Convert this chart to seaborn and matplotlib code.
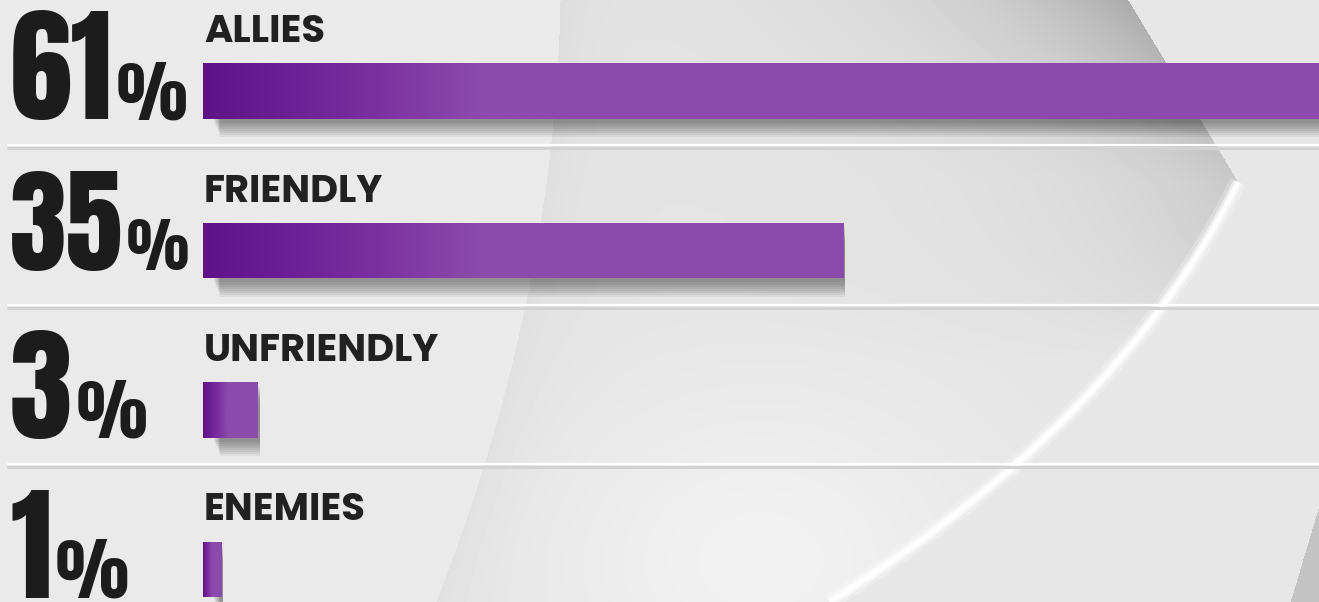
import numpy as np
import pandas as pd
import seaborn as sns
from matplotlib import pyplot as plt
from matplotlib import font_manager as fm
from matplotlib.textpath import TextPath
from matplotlib.colors import LinearSegmentedColormap

# data
categories = ['ALLIES', 'FRIENDLY', 'UNFRIENDLY', 'ENEMIES']
shares = [61, 35, 3, 1]
share_labels = ['61', '35', '3', '1']

W, H = 1319, 602
PX = 18.29      # pixels per percent point
X0 = 203        # pixel where bars start
ROW = 159.5     # pixels between rows
Y0 = 91         # pixel centre of first bar


def bold_face(families, weights=(700, 'bold')):
    """FontProperties for a static bold face of the first family found"""
    for fam in families:
        for f in fm.fontManager.ttflist:
            if (f.name == fam and f.weight in weights
                    and f.style == 'normal' and '[' not in f.fname):
                return fm.FontProperties(fname=f.fname)
    return fm.FontProperties(family='DejaVu Sans', weight='bold')


big_fp = bold_face(['Anton', 'Oswald', 'Bebas Neue'],
                   weights=(400, 'normal', 700, 'bold'))
lab_fp = bold_face(['Montserrat', 'Poppins', 'Raleway', 'Lato'])


def size_for_height(text, px_height, fp):
    """font size (pt) giving the glyphs the wanted height in pixels"""
    ext = TextPath((0, 0), text, size=100, prop=fp).get_extents()
    return px_height / ext.height * 100 * 72 / 100


sns.set_theme(style='white')
plt.rcParams['font.family'] = ['DejaVu Sans']

df = pd.DataFrame({'category': categories, 'share': shares})

fig = plt.figure(figsize=(W / 100, H / 100), dpi=100)

# background with the grey swoosh (decoration only)
bg = fig.add_axes([0, 0, 1, 1], zorder=-1)
yy, xx = np.mgrid[0:H, 0:W].astype(float)
tt = np.linspace(0, 1, 200)
sx = (1 - tt) ** 2 * 1238 + 2 * (1 - tt) * tt * 1120 + tt ** 2 * 830
sy = (1 - tt) ** 2 * 182 + 2 * (1 - tt) * tt * 420 + tt ** 2 * 602
ys = np.arange(H)
x_right = np.where(ys < 182, 1128 + (1238 - 1128) * ys / 182,
                   np.interp(ys, sy, sx))[:, None]
x_left = (560 - 0.02 * ys - 0.00031 * ys ** 2)[:, None]
inside = (xx > x_left) & (xx < x_right)
shade = np.full((H, W), 234.0)
dist = x_right - xx
lens_val = (229 - 58 * np.exp(-dist / 160) * np.clip(1 - yy / 360, 0, 1)
            - 6 * np.exp(-(xx - x_left) / 40)
            + 12 * np.exp(-((xx - 760) ** 2 / 220 ** 2
                            + (yy - 560) ** 2 / 170 ** 2)))
shade = np.where(inside, lens_val, shade)
shade = np.where(xx >= x_right, 231.0, shade)
wedge = (xx > 1290 + (602 - yy) * 0.3) & (yy > 500)
shade = np.where(wedge, 195.0, shade)
bg.imshow(np.clip(shade, 0, 255) / 255, cmap='gray', vmin=0, vmax=1,
          extent=(0, W, H, 0), aspect='auto', interpolation='bilinear')
for lw, a in [(12, 0.25), (7, 0.5), (3.5, 0.95)]:
    bg.plot(sx, sy, color='white', lw=lw, alpha=a, solid_capstyle='butt')
bg.set_xlim(0, W)
bg.set_ylim(H, 0)
bg.set_axis_off()

ax = fig.add_axes([0, 0, 1, 1])
ax.patch.set_alpha(0)

# soft shadows under bars
ypos = np.arange(len(categories))
for k in range(8):
    ax.barh(ypos + 0.025 + k * 0.013, np.array(shares) - 0.5 - k * 0.05,
            left=0.6 + k * 0.05, height=0.351, color='black', alpha=0.055,
            linewidth=0, zorder=1)

sns.barplot(data=df, x='share', y='category', orient='h', color='#8c4aad',
            saturation=1, width=0.351, linewidth=0, ax=ax, zorder=3)

# left-to-right colour fade on each bar
cmap = LinearSegmentedColormap.from_list(
    'fade', ['#5f1288', '#6a1c93', '#7a2e9f', '#8c4aad'])
for patch in list(ax.patches):
    if patch.get_zorder() != 3:
        continue
    x0, y0 = patch.get_x(), patch.get_y()
    w, h = patch.get_width(), patch.get_height()
    g = min(0.45 * w, 15)
    xs = np.linspace(0, w, 400)
    t = np.clip(xs / g, 0, 1) ** 0.8
    img = ax.imshow(t[np.newaxis, :], cmap=cmap, vmin=0, vmax=1,
                    extent=(x0, x0 + w, y0 + h, y0), aspect='auto',
                    interpolation='bilinear', zorder=4)
    img.set_clip_path(patch)

# row separators
for i in range(len(categories) - 1):
    yl = i + 54 / ROW
    ax.plot([(8 - X0) / PX, (W - X0) / PX], [yl + 3 / ROW] * 2,
            color='#d2d2d2', lw=2.2, zorder=1)
    ax.plot([(8 - X0) / PX, (W - X0) / PX], [yl] * 2,
            color='white', lw=1.6, zorder=1)

ax.set_xlim(-X0 / PX, (W - X0) / PX)
ax.set_ylim((H - Y0) / ROW, -Y0 / ROW)
ax.set_axis_off()

# category names and big percentages
num_height = [109, 100, 110, 108]      # glyph height in pixels
pct_height = [58, 51, 58, 60]
base_off = [28, 19.5, 28, 28]          # baseline below bar centre, pixels
lab_size = size_for_height('E', 27, lab_fp)
renderer = fig.canvas.get_renderer()
for i, (cat, lab) in enumerate(zip(categories, share_labels)):
    ax.text(0.05, i - 49 / ROW, cat, fontproperties=lab_fp,
            fontsize=lab_size, color='#212121', va='baseline', ha='left',
            zorder=5)
    yb = i + base_off[i] / ROW
    num = ax.text((10 - X0) / PX, yb, lab, fontproperties=big_fp,
                  fontsize=size_for_height(lab, num_height[i], big_fp),
                  color='#1c1c1c', va='baseline', ha='left', zorder=5)
    right = num.get_window_extent(renderer).x1
    ax.text((right + 4 - X0) / PX, yb, '%', fontproperties=big_fp,
            fontsize=size_for_height('%', pct_height[i], big_fp),
            color='#1c1c1c', va='baseline', ha='left', zorder=5)

plt.savefig('out.png', dpi=100)
plt.close()
